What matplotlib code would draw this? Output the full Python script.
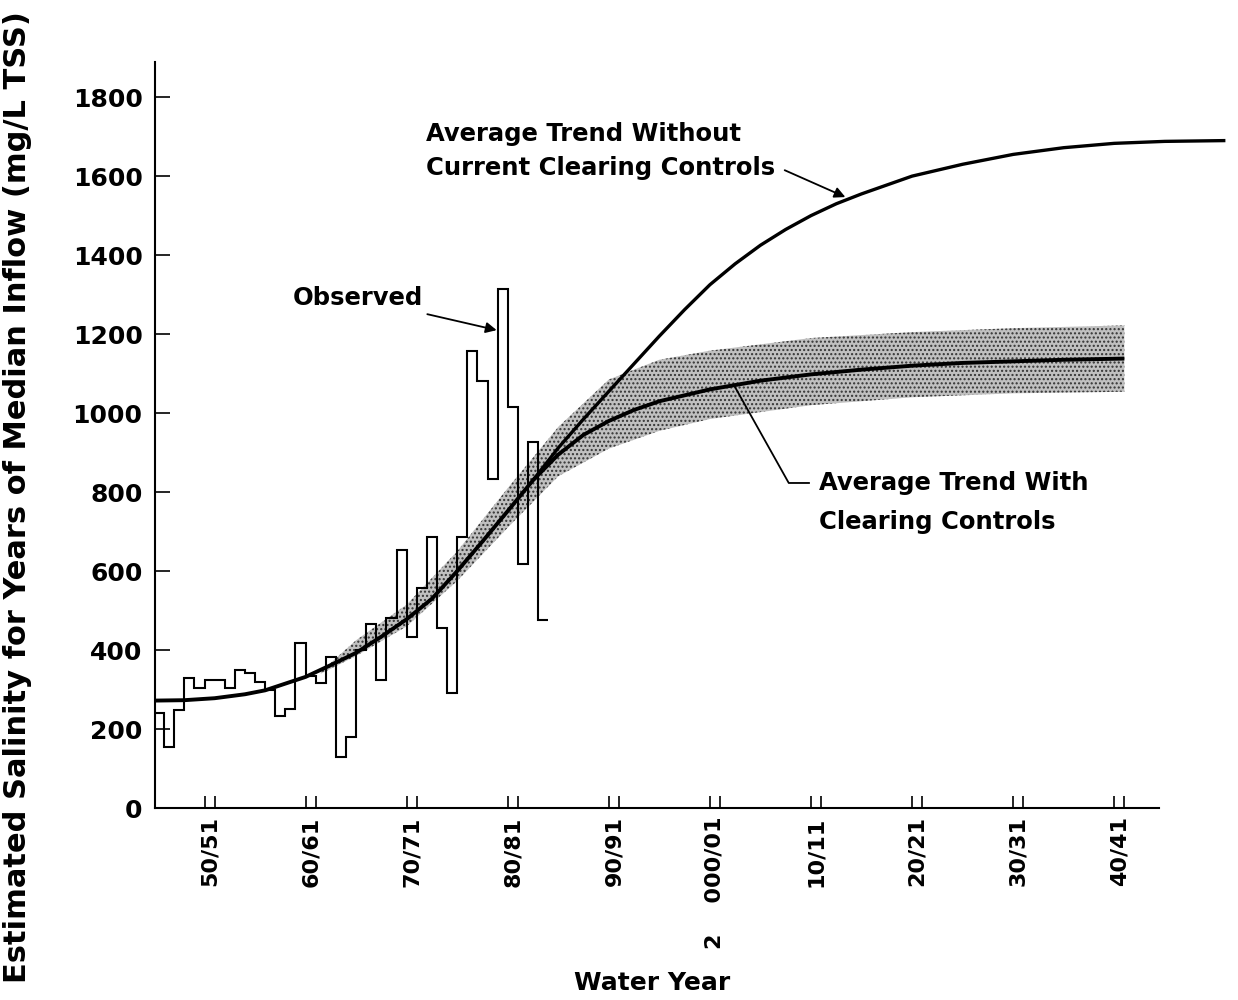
import matplotlib
matplotlib.use("Agg")
import matplotlib.pyplot as plt

plt.rcParams["font.family"] = ["DejaVu Sans"]
plt.rcParams["hatch.linewidth"] = 1.0

# observed annual salinity (water year starting in that year)
obs_edges = list(range(1945, 1985))
obs_vals = [240, 154, 248, 328, 303, 324, 324, 303, 350, 341,
            320, 299, 233, 250, 417, 335, 317, 383, 130, 180,
            400, 467, 324, 480, 653, 434, 556, 687, 455, 290,
            687, 1157, 1082, 832, 1314, 1016, 618, 926, 476]

# average trend with clearing controls
with_yr = [1945.1, 1948, 1951, 1954, 1956, 1958, 1960, 1962.5, 1965, 1967.5,
           1970, 1972.5, 1975, 1977.5, 1980, 1982.5, 1985, 1987.5, 1990, 1992.5,
           1995, 2000, 2005, 2010, 2015, 2020, 2025, 2030, 2035, 2041]
with_val = [272, 273, 278, 288, 298, 315, 332, 362, 393, 434,
            478, 530, 600, 675, 752, 830, 895, 945, 980, 1008,
            1030, 1060, 1082, 1098, 1110, 1120, 1127, 1131, 1135, 1138]

# average trend without current clearing controls
without_yr = [1982.5, 1985, 1987.5, 1990, 1992.5, 1995, 1997.5, 2000, 2002.5, 2005,
              2007.5, 2010, 2012.5, 2015, 2020, 2025, 2030, 2035, 2040, 2045, 2051]
without_val = [830, 912, 985, 1055, 1125, 1195, 1262, 1325, 1378, 1425,
               1465, 1500, 1530, 1555, 1600, 1630, 1655, 1672, 1683, 1688, 1690]

# shaded range around the controlled trend
band_yr = [1961.5, 1965, 1970, 1975, 1980, 1985, 1990, 1995, 2000, 2010, 2020, 2030, 2041]
band_hi = [345, 425, 515, 650, 810, 965, 1085, 1135, 1158, 1190, 1205, 1215, 1222]
band_lo = [340, 385, 460, 575, 710, 840, 910, 955, 985, 1020, 1040, 1050, 1054]

decades = list(range(1950, 2041, 10))
decade_labels = ["50/51", "60/61", "70/71", "80/81", "90/91", "2    000/01",
                 "10/11", "20/21", "30/31", "40/41"]
y_ticks = list(range(0, 1801, 200))


def main():
    fig = plt.figure(figsize=(12.38, 10), dpi=100)
    ax = fig.add_axes([155 / 1238, 0.192, 1070.4 / 1238, 0.746])
    ax.set_xlim(1945.1, 2051)
    ax.set_ylim(0, 1889)

    ax.fill_between(band_yr, band_lo, band_hi, facecolor="#c0c0c0",
                    edgecolor="#333333", hatch="....", linewidth=0, zorder=1)
    ax.stairs(obs_vals, obs_edges, baseline=None, color="black", lw=1.5, zorder=2)
    ax.plot(with_yr, with_val, color="black", lw=2.8, zorder=3, solid_capstyle="butt")
    ax.plot(without_yr, without_val, color="black", lw=2.4, zorder=3,
            clip_on=False, solid_capstyle="butt")

    # axes look
    for s in ("top", "right"):
        ax.spines[s].set_visible(False)
    ax.spines["bottom"].set_bounds(1945.1, 2044.4)
    ax.spines["left"].set_linewidth(1.5)
    ax.spines["bottom"].set_linewidth(1.5)

    ax.set_yticks(y_ticks)
    ax.set_yticklabels([str(v) for v in y_ticks], fontsize=18, fontweight="bold")
    ax.tick_params(axis="y", direction="in", length=11, width=1.2, pad=9)

    pairs = [d + k for d in decades for k in (0, 1)]
    ax.set_xticks(pairs)
    ax.set_xticklabels([])
    ax.tick_params(axis="x", which="major", direction="in", length=9, width=1.2)
    ax.set_xticks([d + 0.5 for d in decades], minor=True)
    ax.set_xticklabels(decade_labels, minor=True, rotation=90, fontsize=16,
                       fontweight="bold", va="top")
    ax.tick_params(axis="x", which="minor", length=0, pad=6)

    fig.text(18 / 1238, 0.503,
             "Estimated Salinity for Years of Median Inflow (mg/L TSS)",
             rotation=90, ha="center", va="center", fontsize=22, fontweight="bold")
    fig.text(652 / 1238, 1 - 983 / 1000, "Water Year", ha="center", va="center",
             fontsize=18, fontweight="bold")

    # annotations
    ax.annotate("Observed", xy=(1978.9, 1210), xytext=(1971.6, 1291),
                ha="right", va="center", fontsize=17.5, fontweight="bold",
                arrowprops=dict(arrowstyle="-|>", color="black", lw=1.3,
                                mutation_scale=16, shrinkA=4, shrinkB=0))
    ax.text(1971.9, 1706, "Average Trend Without", ha="left", va="center",
            fontsize=17.5, fontweight="bold")
    ax.text(1971.9, 1620, "Current Clearing Controls", ha="left", va="center",
            fontsize=17.5, fontweight="bold")
    ax.annotate("", xy=(2013.4, 1547), xytext=(2007.4, 1615),
                arrowprops=dict(arrowstyle="-|>", color="black", lw=1.3,
                                mutation_scale=16, shrinkA=0, shrinkB=0))
    ax.plot([2002.35, 2007.8, 2009.8], [1072, 823, 823], color="black", lw=1.3, zorder=4)
    ax.text(2010.8, 823, "Average Trend With", ha="left", va="center",
            fontsize=17.5, fontweight="bold")
    ax.text(2010.8, 725, "Clearing Controls", ha="left", va="center",
            fontsize=17.5, fontweight="bold")

    fig.savefig("out.png", dpi=100)
    plt.close(fig)


if __name__ == "__main__":
    main()
